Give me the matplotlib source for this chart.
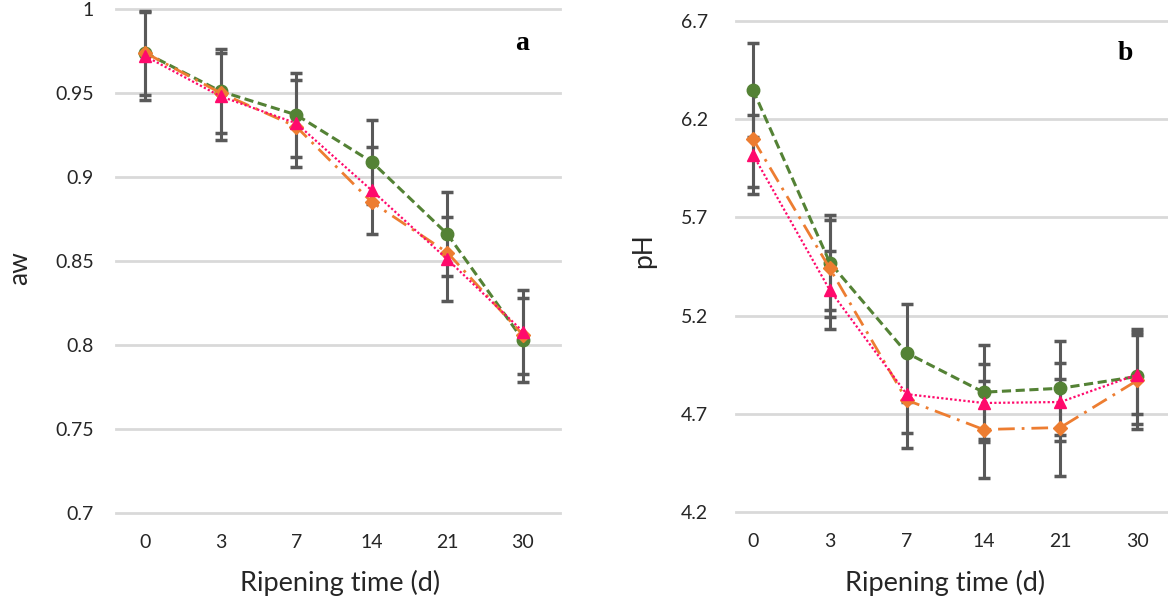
import matplotlib
matplotlib.use("Agg")
import matplotlib.pyplot as plt

days = ["0", "3", "7", "14", "21", "30"]

aw_green = [0.974, 0.951, 0.937, 0.909, 0.866, 0.803]
aw_orange = [0.974, 0.950, 0.930, 0.885, 0.855, 0.806]
aw_pink = [0.972, 0.948, 0.932, 0.892, 0.851, 0.808]
aw_green_err = [0.025, 0.025, 0.025, 0.025, 0.025, 0.025]
aw_pink_err = [0.026, 0.026, 0.026, 0.026, 0.025, 0.025]

ph_green = [6.35, 5.47, 5.01, 4.81, 4.83, 4.89]
ph_orange = [6.10, 5.44, 4.77, 4.62, 4.63, 4.87]
ph_pink = [6.02, 5.33, 4.80, 4.755, 4.76, 4.90]
ph_green_err = [0.24, 0.24, 0.25, 0.24, 0.24, 0.24]
ph_orange_err = [0.245, 0.245, 0.245, 0.245, 0.245, 0.245]
ph_pink_err = [0.20, 0.20, 0.20, 0.20, 0.20, 0.20]

aw_ticks = [0.7, 0.75, 0.8, 0.85, 0.9, 0.95, 1.0]
aw_ticklabels = ["0.7", "0.75", "0.8", "0.85", "0.9", "0.95", "1"]
ph_ticks = [4.2, 4.7, 5.2, 5.7, 6.2, 6.7]
ph_ticklabels = ["4.2", "4.7", "5.2", "5.7", "6.2", "6.7"]

GREEN = "#548235"
ORANGE = "#ED7D31"
PINK = "#FF0A6C"
ERR = "#595959"
GRID = "#d9d9d9"
TXT = "#262626"
FONT = ["Lato", "DejaVu Sans"]
SERIF = ["Liberation Serif", "DejaVu Serif"]

W, H = 1168, 601
fig = plt.figure(figsize=(W / 100, H / 100), dpi=100)


def px_axes(x0, x1, ytop, ybot):
    return fig.add_axes([x0 / W, 1 - ybot / H, (x1 - x0) / W, (ybot - ytop) / H])


def style(ax, ticks, labels, ylim, xlim, ypad):
    ax.set_ylim(*ylim)
    ax.set_xlim(*xlim)
    for s in ax.spines.values():
        s.set_visible(False)
    ax.set_yticks(ticks)
    ax.set_yticklabels(labels, fontsize=14, color=TXT, family=FONT)
    ax.set_xticks(range(len(days)))
    ax.set_xticklabels(days, fontsize=14, color=TXT, family=FONT)
    ax.tick_params(axis="both", length=0)
    ax.tick_params(axis="y", pad=ypad)
    ax.tick_params(axis="x", pad=15)
    for t in ticks:
        ax.axhline(t, color=GRID, lw=2, zorder=0, clip_on=False)


def draw(ax, series):
    x = list(range(len(days)))
    for y, err, color, ls, lw, marker, ms in series:
        if err is not None:
            ax.errorbar(x, y, yerr=err, fmt="none", ecolor=ERR, elinewidth=2.2,
                        capsize=4.5, capthick=2.5, zorder=2)
    for i, (y, err, color, ls, lw, marker, ms) in enumerate(series):
        ax.plot(x, y, color=color, ls=ls, lw=lw, marker=marker, ms=ms,
                markeredgecolor=color, zorder=3 + i)


# Panel a
ax1 = px_axes(116, 560, 9, 513)
style(ax1, aw_ticks, aw_ticklabels, (0.7, 1.0), (-0.384, 5.49), 16)
draw(ax1, [
    (aw_green, aw_green_err, GREEN, (0, (3, 1.5)), 2.2, "o", 9),
    (aw_orange, None, ORANGE, (0, (6, 2.5, 1, 2.5)), 2.0, "D", 7),
    (aw_pink, aw_pink_err, PINK, (0, (1, 1)), 1.6, "^", 9),
])
fig.text(522 / W, 1 - 44 / H, "a", fontsize=20, fontweight="bold",
         family=SERIF, ha="center", va="center", color="black")
fig.text(340 / W, 1 - 583 / H, "Ripening time (d)", fontsize=19.5, color=TXT,
         family=FONT, ha="center", va="center")
fig.text(20 / W, 1 - 268 / H, "aw", fontsize=19, color=TXT, family=FONT,
         rotation=90, ha="center", va="center")

# Panel b
ax2 = px_axes(736, 1168, 21, 512)
style(ax2, ph_ticks, ph_ticklabels, (4.2, 6.7), (-0.22, 5.40), 20)
draw(ax2, [
    (ph_green, ph_green_err, GREEN, (0, (3, 1.5)), 2.2, "o", 9),
    (ph_orange, ph_orange_err, ORANGE, (0, (6, 2.5, 1, 2.5)), 2.0, "D", 7),
    (ph_pink, ph_pink_err, PINK, (0, (1, 1)), 1.6, "^", 9),
])
fig.text(1125 / W, 1 - 53 / H, "b", fontsize=20, fontweight="bold",
         family=SERIF, ha="center", va="center", color="black")
fig.text(945 / W, 1 - 583 / H, "Ripening time (d)", fontsize=19.5, color=TXT,
         family=FONT, ha="center", va="center")
fig.text(644 / W, 1 - 251 / H, "pH", fontsize=19, color=TXT, family=FONT,
         rotation=90, ha="center", va="center")

fig.savefig("out.png", dpi=100, facecolor="white")
